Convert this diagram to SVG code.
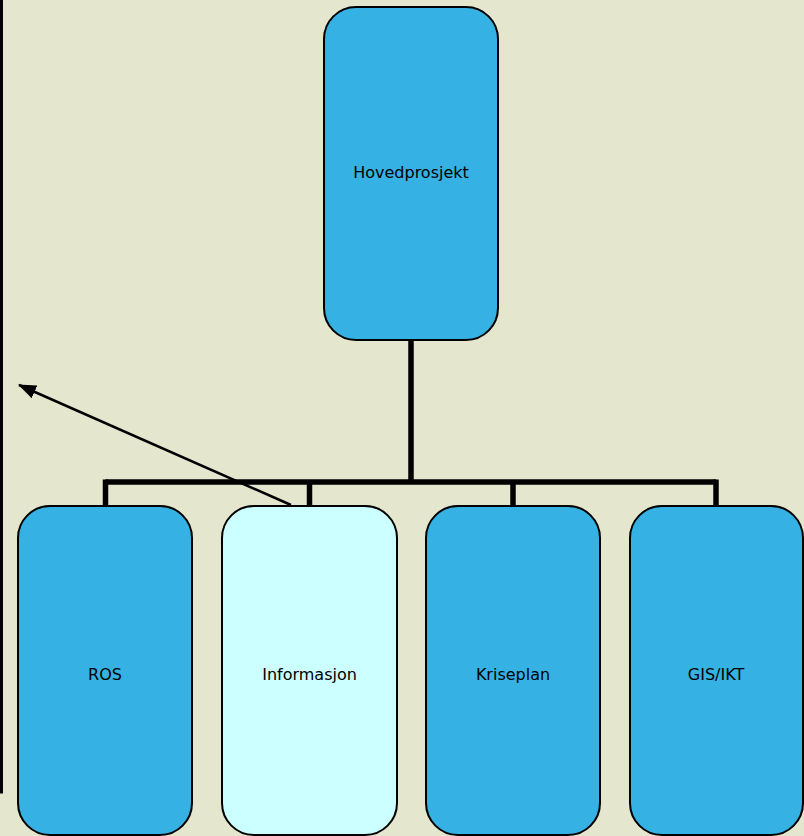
<svg xmlns="http://www.w3.org/2000/svg" width="804" height="836" viewBox="0 0 804 836">
<style>
.node{stroke:#000;stroke-width:2}
.blue{fill:#35B2E3}
.light{fill:#CCFFFF}
.lbl{font-family:"DejaVu Sans",Verdana,sans-serif;font-size:16px;fill:#000;text-anchor:middle}
.conn{stroke:#000;stroke-width:5.5;fill:none}
</style>
<defs>
<marker id="ah" markerWidth="18" markerHeight="14" refX="17" refY="7" orient="auto" markerUnits="userSpaceOnUse" viewBox="0 0 18 14">
<path d="M0,0 L18,7 L0,14 z" fill="#000"/>
</marker>
</defs>
<rect x="0" y="0" width="804" height="836" fill="#E4E7CE"/>
<path d="M1.5,-5 V792 H-5" fill="none" stroke="#000" stroke-width="3"/>
<g id="connectors">
<path class="conn" d="M411,340 V482"/>
<path class="conn" d="M105.5,482 H716"/>
<path class="conn" d="M105.5,479.5 V506"/>
<path class="conn" d="M309.5,482 V506"/>
<path class="conn" d="M513,482 V506"/>
<path class="conn" d="M716,479.5 V506"/>
</g>
<g id="n-hoved">
<rect class="node blue" x="324" y="7" width="174" height="333" rx="32" ry="32"/>
<text class="lbl" x="411" y="178">Hovedprosjekt</text>
</g>
<g id="n-ros">
<rect class="node blue" x="18" y="506" width="174" height="329" rx="32" ry="32"/>
<text class="lbl" x="105" y="680">ROS</text>
</g>
<g id="n-info">
<rect class="node light" x="222" y="506" width="175" height="329" rx="32" ry="32"/>
<text class="lbl" x="309.5" y="680">Informasjon</text>
</g>
<g id="n-krise">
<rect class="node blue" x="426" y="506" width="174" height="329" rx="32" ry="32"/>
<text class="lbl" x="513" y="680">Kriseplan</text>
</g>
<g id="n-gis">
<rect class="node blue" x="630" y="506" width="173" height="329" rx="32" ry="32"/>
<text class="lbl" x="716" y="680">GIS/IKT</text>
</g>
<g id="arrow">
<line x1="291" y1="505" x2="19" y2="385" stroke="#000" stroke-width="2.5" marker-end="url(#ah)"/>
</g>
</svg>
